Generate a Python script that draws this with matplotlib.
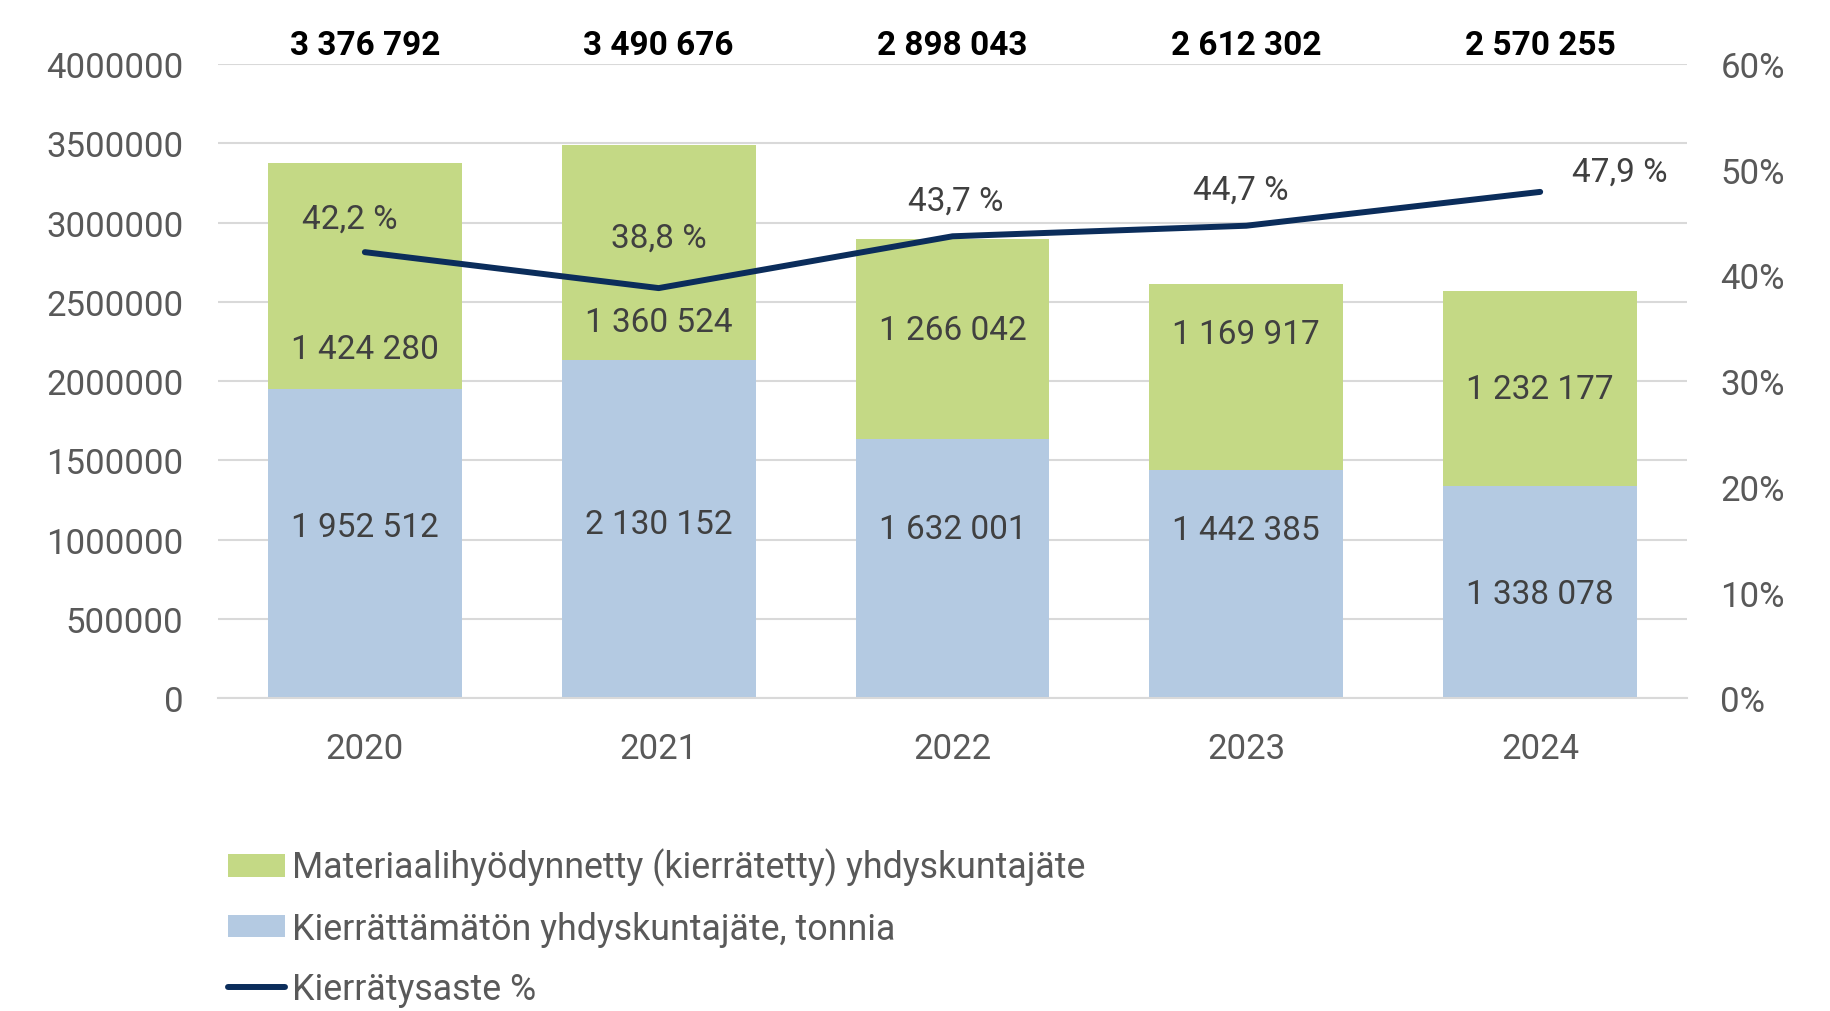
import matplotlib
matplotlib.use("Agg")
import matplotlib.pyplot as plt
from matplotlib.lines import Line2D
from matplotlib.patches import Patch

years = ["2020", "2021", "2022", "2023", "2024"]
kierrattamaton = [1952512, 2130152, 1632001, 1442385, 1338078]
kierratetty = [1424280, 1360524, 1266042, 1169917, 1232177]
yhteensa = [3376792, 3490676, 2898043, 2612302, 2570255]
kierratysaste = [42.2, 38.8, 43.7, 44.7, 47.9]

# label placement (as in the original, labels were moved by hand)
blue_lbl_y = [1.08e6, 1.10e6, 1.07e6, 1.06e6, 0.66e6]
green_lbl_y = [2.20e6, 2.37e6, 2.32e6, 2.30e6, 1.95e6]
pct_lbl_dx = [-0.05, 0.0, 0.01, -0.02, 0.27]
pct_lbl_dy = [3.2, 4.8, 3.4, 3.4, 1.9]

GREEN = "#C4D985"
BLUE = "#B4CAE2"
NAVY = "#0B2D5B"
GRID = "#D9D9D9"

plt.rcParams['font.family'] = ['Roboto', 'DejaVu Sans']


def fmt(v):
    return f"{v:,}".replace(",", " ")


fig = plt.figure(figsize=(18.3, 10.12), dpi=100)
ax = fig.add_axes([0.1191, 0.309, 0.8028, 0.6268])
x = list(range(len(years)))

ax.bar(x, kierrattamaton, width=0.66, color=BLUE, zorder=2)
ax.bar(x, kierratetty, width=0.66, bottom=kierrattamaton, color=GREEN, zorder=2)

ax.set_xlim(-0.5, 4.5)
ax.set_ylim(0, 4000000)
ax.set_yticks(range(0, 4000001, 500000))
ax.set_yticklabels([str(t) for t in range(0, 4000001, 500000)])
ax.set_xticks(x)
ax.set_xticklabels(years)
ax.grid(axis='y', color=GRID, lw=1.5, zorder=0)
ax.set_axisbelow(True)
for s in ['top', 'left', 'right']:
    ax.spines[s].set_visible(False)
ax.spines['bottom'].set_color(GRID)
ax.spines['bottom'].set_linewidth(1.5)
ax.tick_params(axis='y', length=0, pad=25, labelsize=25, labelcolor='#595959')
ax.tick_params(axis='x', length=0, pad=24, labelsize=25, labelcolor='#595959')

for i in x:
    ax.text(i, blue_lbl_y[i], fmt(kierrattamaton[i]), ha='center', va='center',
            fontsize=24, color='#404040', zorder=3)
    ax.text(i, green_lbl_y[i], fmt(kierratetty[i]), ha='center', va='center',
            fontsize=24, color='#404040', zorder=3)
    ax.text(i, 1.03, fmt(yhteensa[i]), ha='center', va='center', fontsize=24,
            fontweight='bold', color='black', transform=ax.get_xaxis_transform(),
            clip_on=False)

ax2 = ax.twinx()
ax2.plot(x, kierratysaste, color=NAVY, lw=4.3, solid_capstyle='round', zorder=4)
ax2.set_ylim(0, 60)
ax2.set_yticks(range(0, 61, 10))
ax2.set_yticklabels([f"{t}%" for t in range(0, 61, 10)])
ax2.tick_params(axis='y', length=0, pad=24, labelsize=25, labelcolor='#595959')
for s in ax2.spines.values():
    s.set_visible(False)
for i in x:
    ax2.text(i + pct_lbl_dx[i], kierratysaste[i] + pct_lbl_dy[i],
             f"{kierratysaste[i]:.1f} %".replace(".", ","), ha='center', va='center',
             fontsize=24, color='#404040')

handles = [Patch(facecolor=GREEN, edgecolor='none'),
           Patch(facecolor=BLUE, edgecolor='none'),
           Line2D([0], [0], color=NAVY, lw=4.3, solid_capstyle='round')]
labels = ["Materiaalihyödynnetty (kierrätetty) yhdyskuntajäte",
          "Kierrättämätön yhdyskuntajäte, tonnia",
          "Kierrätysaste %"]
fig.legend(handles, labels, loc='upper left', bbox_to_anchor=(0.1245, 0.161),
           frameon=False, fontsize=25.75, handlelength=1.6, handleheight=0.6,
           handletextpad=0.2, labelspacing=0.68, borderaxespad=0, borderpad=0,
           labelcolor='#595959')

fig.savefig("out.png", dpi=100)
